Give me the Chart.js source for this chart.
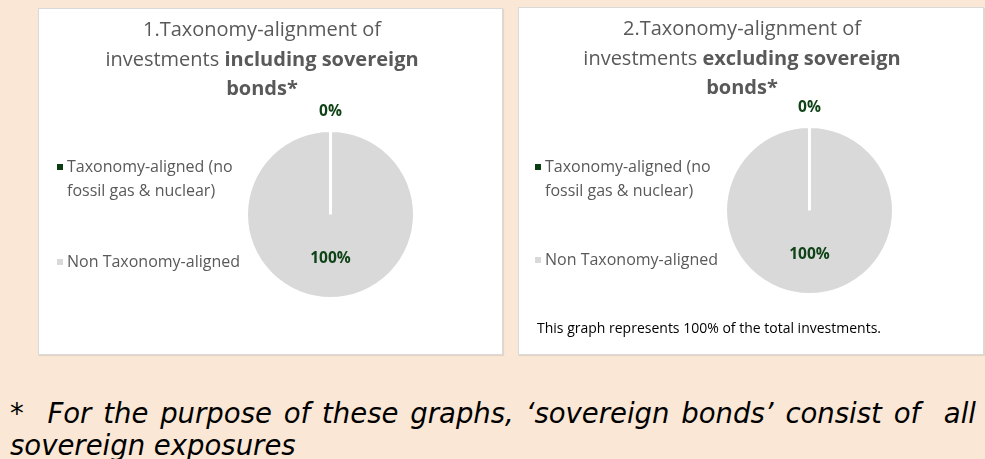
<!DOCTYPE html>
<html>
<head>
<meta charset="utf-8">
<script src="https://cdn.jsdelivr.net/npm/chart.js@4"></script>
<style>
  html, body { margin: 0; padding: 0; }
  body { width: 985px; height: 459px; background: #fae7d5; position: relative; overflow: hidden; font-family: "Open Sans", Lato, sans-serif; }
  .panel { position: absolute; background: #fff; border: 1px solid #d9d9d9; box-shadow: 1px 1px 1px rgba(0,0,0,0.08); }
  .panel .box { position: absolute; left: 0; top: 0; right: 0; bottom: 0; }
  .title { position: absolute; text-align: center; color: #595959; font-size: 20px; line-height: 29.5px; }
  .title b { font-weight: 700; }
  .legend { position: absolute; color: #595959; font-size: 16px; line-height: 23.5px; }
  .legend .item { position: absolute; left: 0; white-space: nowrap; }
  .legend .mark { position: absolute; width: 6px; height: 6px; left: -10px; top: 9px; }
  .note { position: absolute; font-size: 14px; color: #000; white-space: nowrap; }
  .foot { position: absolute; left: 10px; width: 966px; top: 397px; font-family: "DejaVu Sans", sans-serif; font-style: italic; font-size: 27.5px; line-height: 32px; color: #000; text-align: justify; text-align-last: left; }
</style>
</head>
<body>

<div class="panel" id="p1" style="left:38px; top:8px; width:463px; height:345px;">
  <div class="box"><canvas id="pie1"></canvas></div>
  <div class="title" style="left:0; width:446px; top:5px;">1.Taxonomy-alignment of<br>investments <b>including sovereign<br>bonds*</b></div>
  <div class="legend" id="leg1" style="left:28px; top:146px;"></div>
</div>

<div class="panel" id="p2" style="left:518px; top:7px; width:464px; height:346px;">
  <div class="box"><canvas id="pie2"></canvas></div>
  <div class="title" style="left:0; width:446px; top:5px;">2.Taxonomy-alignment of<br>investments <b>excluding sovereign<br>bonds*</b></div>
  <div class="legend" id="leg2" style="left:26px; top:147px;"></div>
  <div class="note" style="left:18px; top:310px;">This graph represents 100% of the total investments.</div>
</div>

<div class="foot">*&nbsp; For the purpose of these graphs, ‘sovereign bonds’ consist of &nbsp;all sovereign exposures</div>

<script>
// categories and values (percent of investments)
const categories = ['Taxonomy-aligned (no fossil gas & nuclear)', 'Non Taxonomy-aligned'];
const legendLines = [['Taxonomy-aligned (no', 'fossil gas & nuclear)'], ['Non Taxonomy-aligned']];
const inclSovereign = [0, 100];
const exclSovereign = [0, 100];
const sliceColors = ['#0b3d12', '#d9d9d9'];
const labelColor = '#0f4216';

// percentage labels: small slices sit outside the pie, large ones inside
const pctLabels = {
  id: 'pctLabels',
  afterDatasetsDraw(chart) {
    const ctx = chart.ctx;
    const meta = chart.getDatasetMeta(0);
    const data = chart.data.datasets[0].data;
    const total = data.reduce((a, b) => a + b, 0);
    ctx.save();
    ctx.font = 'bold 15.5px "Open Sans", sans-serif';
    ctx.fillStyle = labelColor;
    ctx.textAlign = 'center';
    ctx.textBaseline = 'middle';
    meta.data.forEach((arc, i) => {
      const p = arc.getProps(['x', 'y', 'startAngle', 'endAngle', 'outerRadius'], true);
      const mid = (p.startAngle + p.endAngle) / 2;
      const share = data[i] / total;
      const r = share < 0.05 ? p.outerRadius + 19 : p.outerRadius * 0.53;
      ctx.fillText(Math.round(share * 100) + '%', p.x + Math.cos(mid) * r, p.y + Math.sin(mid) * r);
    });
    ctx.restore();
  }
};

function buildLegend(id, gaps) {
  const el = document.getElementById(id);
  let top = 0;
  legendLines.forEach((lines, i) => {
    const item = document.createElement('div');
    item.className = 'item';
    item.style.top = top + 'px';
    item.innerHTML = '<span class="mark" style="background:' + sliceColors[i] + '"></span>' + lines.join('<br>');
    el.appendChild(item);
    top += gaps[i];
  });
}

function drawPie(id, values, pad) {
  new Chart(document.getElementById(id), {
    type: 'pie',
    data: {
      labels: categories,
      datasets: [{
        data: values,
        backgroundColor: sliceColors,
        borderColor: '#ffffff',
        borderWidth: 3
      }]
    },
    options: {
      responsive: true,
      maintainAspectRatio: false,
      animation: false,
      radius: 84,
      layout: { padding: pad },
      plugins: {
        legend: { display: false },
        tooltip: { enabled: false }
      }
    },
    plugins: [pctLabels]
  });
}

buildLegend('leg1', [95, 0]);
buildLegend('leg2', [93, 0]);
drawPie('pie1', inclSovereign, { left: 120, right: 0, top: 66, bottom: 0 });
drawPie('pie2', exclSovereign, { left: 117, right: 0, top: 59, bottom: 0 });
</script>
</body>
</html>
